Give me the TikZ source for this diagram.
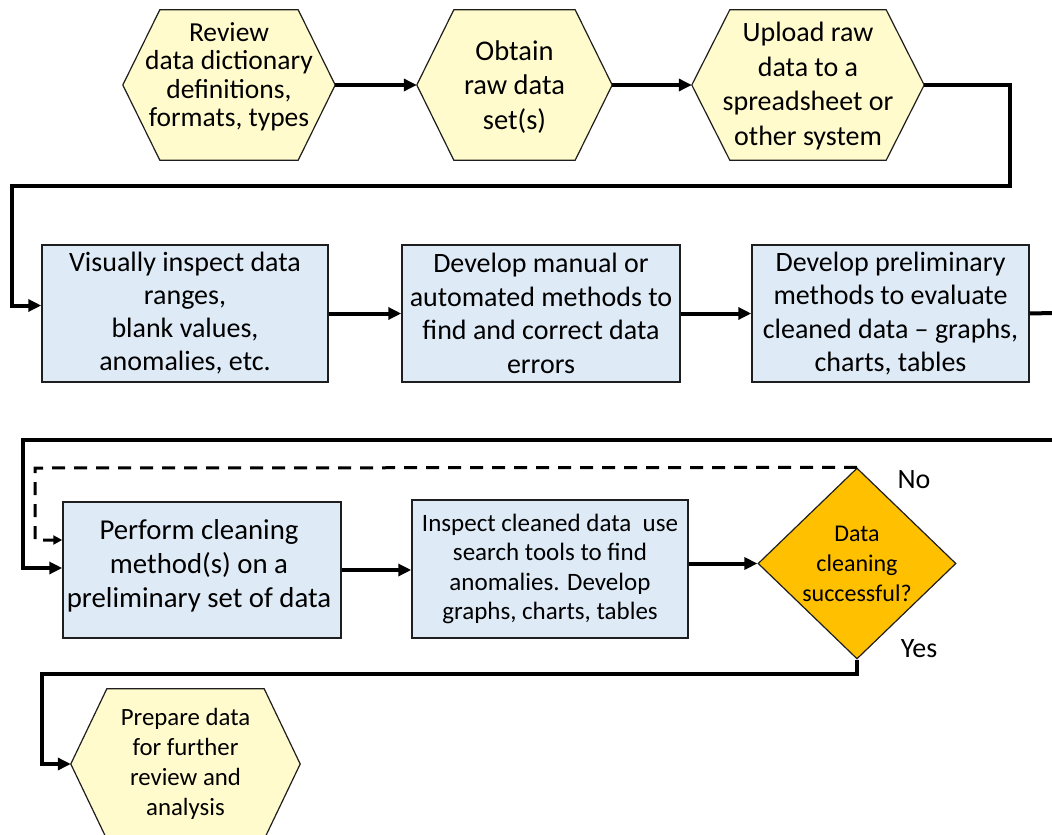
\documentclass[tikz,border=0pt]{standalone}
\usepackage{fontspec}
\setmainfont{Carlito}
\usetikzlibrary{arrows.meta,shapes.geometric,backgrounds}
\definecolor{hexfill}{RGB}{255,251,204}
\definecolor{boxfill}{RGB}{222,235,247}
\definecolor{dfill}{RGB}{255,192,0}
\definecolor{edge}{RGB}{30,30,30}
\newcommand\fs[2]{\fontsize{#1pt}{#2pt}\selectfont}
\newcommand\hexpath[2]{%
  \filldraw[hexline] (#1.west) -- ([xshift=#2]#1.north west) -- ([xshift=-#2]#1.north east)
    -- (#1.east) -- ([xshift=-#2]#1.south east) -- ([xshift=#2]#1.south west) -- cycle;}
\begin{document}
\begin{tikzpicture}[x=1pt,y=-1pt,
  hexnode/.style={rectangle,inner sep=0pt,align=center,text=black},
  hexline/.style={fill=hexfill,draw=edge,line width=1.2pt},
  procbox/.style={rectangle,draw=edge,fill=boxfill,line width=1.5pt,inner sep=0pt,align=center,text=black},
  decision/.style={diamond,draw=edge,fill=dfill,line width=1.2pt,inner sep=0pt,align=center,text=black},
  txt/.style={inner sep=0pt,align=center,text=black},
  flow/.style={line width=4pt,-{Triangle[length=13pt,width=12pt]}},
  plainflow/.style={line width=4pt},
  dashflow/.style={line width=3pt,dash pattern=on 13pt off 9pt,-{Triangle[length=9pt,width=9pt]}},
  lbl/.style={font=\fs{28}{30},text=black}
]
\useasboundingbox (0,0) rectangle (1052,835);

% hexagons
\node[hexnode,minimum width=212pt,minimum height=150pt] (h1) at (229,85) {};
\node[txt,font=\fs{27.5}{28.5}] (h1t) at (229,77)
  {Review\\data dictionary\\definitions,\\formats, types};
\node[hexnode,minimum width=195pt,minimum height=150pt] (h2) at (514.5,85) {};
\node[txt,font=\fs{28.5}{34.5}] (h2t) at (514.5,87)
  {Obtain\\raw data\\set(s)};
\node[hexnode,minimum width=232pt,minimum height=150pt] (h3) at (808,85) {};
\node[txt,font=\fs{28}{34.5}] (h3t) at (808,86)
  {Upload raw\\data to a\\spreadsheet or\\other system};
\node[hexnode,minimum width=229pt,minimum height=150pt,font=\fs{24.8}{30}] (h4) at (185.5,764)
  {Prepare data\\for further\\review and\\analysis};
\begin{scope}[on background layer]
  \fill[white] (0,0) rectangle (1052,835);
  \hexpath{h1}{37pt}
  \hexpath{h2}{37pt}
  \hexpath{h3}{38pt}
  \hexpath{h4}{36pt}
\end{scope}

% boxes
\node[procbox,minimum width=286pt,minimum height=137pt,font=\fs{28}{33}] (b1) at (185,313.5)
  {Visually inspect data\\ranges,\\blank values,\\anomalies, etc.};
\node[procbox,minimum width=278pt,minimum height=137pt,font=\fs{28}{33.5}] (b2) at (541,313.5)
  {Develop manual or\\automated methods to\\find and correct data\\errors};
\node[procbox,minimum width=277pt,minimum height=137pt,font=\fs{28}{33.5}] (b3) at (890.5,313.5)
  {Develop preliminary\\methods to evaluate\\cleaned data -- graphs,\\charts, tables};
\node[procbox,minimum width=278pt,minimum height=136pt] (b4) at (202,570) {};
\node[txt,font=\fs{28.8}{34}] (b4t) at (199,566)
  {Perform cleaning\\method(s) on a\\preliminary set of data};
\node[procbox,minimum width=276pt,minimum height=138pt,font=\fs{25}{29.5}] (b5) at (550,569)
  {Inspect cleaned data\ \ use\\search tools to find\\anomalies. Develop\\graphs, charts, tables};
\node[decision,minimum width=198pt,minimum height=191pt,font=\fs{24}{30}] (d) at (857,563.5)
  {Data\\cleaning\\successful?};

\node[lbl] (no) at (914,480) {No};
\node[lbl] (yes) at (919,649) {Yes};

% connectors
\coordinate (r1) at (1010,186);
\coordinate (l1) at (12,186);
\coordinate (e1) at (1053,313);
\coordinate (e2) at (1053,440);
\coordinate (l2) at (23,440);
\coordinate (dl) at (35,468);
\coordinate (yb) at (857,674);
\coordinate (l3) at (42,674);

\draw[flow] (h1.east) -- (h2.west);
\draw[flow] (h2.east) -- (h3.west);
\draw[flow] (h3.east) -| (r1) -- (l1) |- ([yshift=8pt]b1.west);
\draw[flow] (b1.east) -- (b2.west);
\draw[flow] (b2.east) -- (b3.west);
\draw[plainflow] (b3.east) -- (e1);
\draw[flow] (e2) -- (l2) |- ([yshift=2pt]b4.west);
\draw[dashflow] (d.north) -- (dl) |- ([yshift=30pt]b4.west);
\draw[flow] (b4.east |- 0,570) -- (b5.west |- 0,570);
\draw[flow] (b5.east |- d.west) -- (d.west);
\draw[flow] (d.south) -- (yb) -- (l3) |- (h4.west);
\end{tikzpicture}
\end{document}
